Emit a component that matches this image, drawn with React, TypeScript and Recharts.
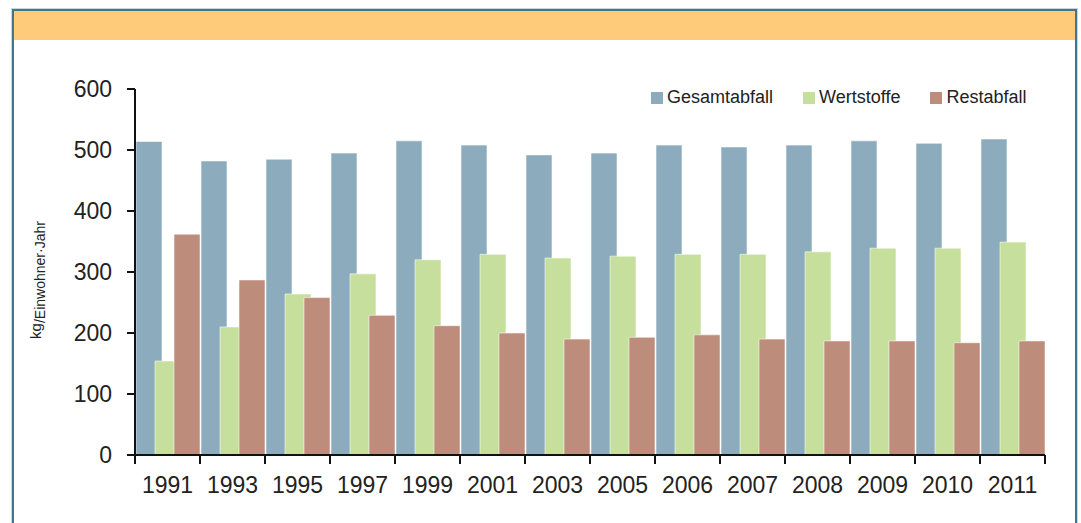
import React from 'react';
import { BarChart, Bar, XAxis, YAxis, Legend, Label } from 'recharts';

const years = ['1991', '1993', '1995', '1997', '1999', '2001', '2003', '2005', '2006', '2007', '2008', '2009', '2010', '2011'];
const gesamtabfall = [514, 482, 485, 495, 515, 508, 492, 495, 508, 505, 508, 515, 511, 518];
const wertstoffe = [154, 210, 264, 297, 320, 329, 323, 326, 329, 329, 333, 339, 339, 349];
const restabfall = [362, 287, 258, 229, 212, 200, 190, 193, 197, 190, 187, 187, 184, 187];
const yTicks = [0, 100, 200, 300, 400, 500, 600];
const seriesNames = ['Gesamtabfall', 'Wertstoffe', 'Restabfall'];

const data = years.map((year, i) => ({
  year,
  Gesamtabfall: gesamtabfall[i],
  Wertstoffe: wertstoffe[i],
  Restabfall: restabfall[i],
}));

const FONT = "'Liberation Sans', Arial, Helvetica, sans-serif";
const TEXT = '#222222';
const AXIS = '#111111';

const XTick = (props: any) => {
  const { x, y, payload, index } = props;
  const half = payload && typeof payload.offset === 'number' && payload.offset > 0 ? payload.offset : 32.5;
  const isLast = index === years.length - 1;
  return (
    <g>
      <line x1={x - half} x2={x - half} y1={y} y2={y + 9} stroke={AXIS} strokeWidth={2} />
      {isLast && <line x1={x + half} x2={x + half} y1={y} y2={y + 9} stroke={AXIS} strokeWidth={2} />}
      <text x={x} y={y + 38} textAnchor="middle" fontSize={23} fill={TEXT} fontFamily={FONT}>
        {payload.value}
      </text>
    </g>
  );
};

const YLabel = (props: any) => {
  const vb = props.viewBox || { x: 0, y: 89, width: 135, height: 366 };
  const cx = vb.x + 41;
  const cy = vb.y + vb.height / 2 + 8;
  return (
    <text
      x={cx}
      y={cy}
      transform={`rotate(-90 ${cx} ${cy})`}
      textAnchor="middle"
      fill={TEXT}
      fontFamily={FONT}
    >
      <tspan fontSize={15}>kg</tspan>
      <tspan fontSize={14} dy={4}>/Einwohner·Jahr</tspan>
    </text>
  );
};

const renderLegend = (props: any) => {
  const payload = [...(props.payload || [])].sort(
    (a: any, b: any) => seriesNames.indexOf(a.value) - seriesNames.indexOf(b.value)
  );
  return (
    <div style={{ display: 'flex', gap: 30, fontFamily: FONT, fontSize: 18, color: TEXT, lineHeight: '20px' }}>
      {payload.map((p: any) => (
        <div key={p.value} style={{ display: 'flex', alignItems: 'center', whiteSpace: 'nowrap' }}>
          <span style={{ display: 'inline-block', width: 12, height: 12, background: p.color, marginRight: 4, marginTop: 2 }} />
          <span>{p.value}</span>
        </div>
      ))}
    </div>
  );
};

export default function App() {
  return (
    <div style={{ position: 'absolute', left: 0, top: 0, width: 1081, height: 523, overflow: 'hidden', background: '#ffffff' }}>
      <div
        style={{
          position: 'absolute',
          left: 12,
          top: 9,
          width: 1061,
          height: 560,
          border: '2px solid #41768c',
          boxShadow: '0 0 0 1px #c9d6dc',
          background: '#ffffff',
        }}
      >
        <div style={{ height: 29, background: '#fecb7b' }} />
      </div>
      <div style={{ position: 'absolute', left: 0, top: 0 }}>
        <BarChart
          width={1081}
          height={523}
          data={data}
          margin={{ top: 89, right: 36, bottom: 8, left: 0 }}
          barSize={26}
          barGap={-7}
          style={{ fontFamily: FONT }}
        >
          <XAxis
            dataKey="year"
            height={60}
            tickSize={0}
            tickMargin={0}
            tickLine={false}
            axisLine={{ stroke: AXIS, strokeWidth: 2 }}
            tick={<XTick />}
            interval={0}
          />
          <YAxis
            width={135}
            domain={[0, 600]}
            ticks={yTicks}
            interval={0}
            tickSize={8}
            tickMargin={15}
            axisLine={{ stroke: AXIS, strokeWidth: 2 }}
            tickLine={{ stroke: AXIS, strokeWidth: 2 }}
            tick={{ fontSize: 23, fill: TEXT, fontFamily: FONT }}
          >
            <Label content={<YLabel />} />
          </YAxis>
          <Legend
            layout="horizontal"
            verticalAlign="middle"
            align="center"
            content={renderLegend}
            wrapperStyle={{ top: 87, left: 651, width: 420, height: 22 }}
          />
          <Bar dataKey="Gesamtabfall" name="Gesamtabfall" fill="#8cacbd" stroke="#ffffff" strokeOpacity={0.55} strokeWidth={1} isAnimationActive={false} />
          <Bar dataKey="Wertstoffe" name="Wertstoffe" fill="#c6df9c" stroke="#ffffff" strokeOpacity={0.55} strokeWidth={1} isAnimationActive={false} />
          <Bar dataKey="Restabfall" name="Restabfall" fill="#bd8c7a" stroke="#ffffff" strokeOpacity={0.55} strokeWidth={1} isAnimationActive={false} />
        </BarChart>
      </div>
    </div>
  );
}
